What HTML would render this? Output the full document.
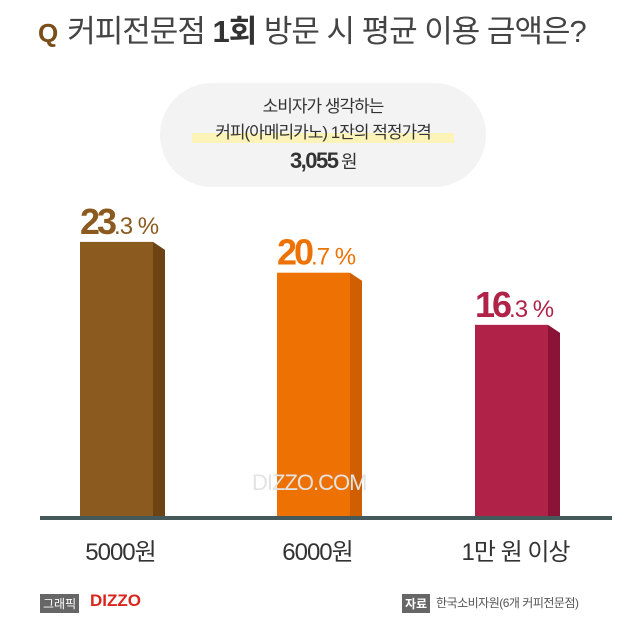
<!DOCTYPE html>
<html><head><meta charset="utf-8"><style>
body{margin:0;width:640px;height:619px;background:#fff;overflow:hidden;font-family:"Liberation Sans","Noto Sans CJK KR",sans-serif;}
.t{position:absolute;white-space:nowrap;}
</style></head><body>
<div style="position:relative;width:640px;height:619px;">
<div class="t" style="left:38px;top:6px;font-size:31px;color:#444;letter-spacing:-1px;"><span style="color:#7a4e1a;font-weight:bold;font-size:26px;margin-right:10px;">Q</span>커피전문점 <b style="color:#333">1회</b> 방문 시 평균 이용 금액은?</div>
<div style="position:absolute;left:160px;top:83px;width:326px;height:104px;border-radius:52px;background:#f3f3f3;"></div>
<div class="t" style="left:160px;width:326px;text-align:center;top:92px;font-size:17px;color:#333;letter-spacing:-1px;">소비자가 생각하는</div>
<div style="position:absolute;left:192px;top:133px;width:262px;height:10px;background:#fbf3b8;"></div>
<div class="t" style="left:160px;width:326px;text-align:center;top:118px;font-size:17px;color:#333;letter-spacing:-1px;">커피(아메리카노) 1잔의 적정가격</div>
<div class="t" style="left:160px;width:326px;text-align:center;top:148px;font-size:22px;color:#333;font-weight:bold;letter-spacing:-1.5px;">3,055<span style="font-weight:normal;font-size:18px;"> 원</span></div>
<svg id="chart" width="640" height="619" style="position:absolute;left:0;top:0;"></svg>
<div class="t" style="left:252px;top:470px;font-size:22px;color:#e3e3e3;letter-spacing:-1px;">DIZZO.COM</div>
<div class="t" style="left:40px;top:594px;font-size:12px;color:#fff;background:#666;padding:1px 3px;">그래픽</div>
<div class="t" style="left:90px;top:591px;font-size:17px;color:#d9261c;font-weight:bold;">DIZZO</div>
<div class="t" style="left:402px;top:594px;font-size:12px;color:#fff;background:#666;padding:1px 3px;font-weight:bold;">자료</div>
<div class="t" style="left:436px;top:594px;font-size:12px;color:#555;letter-spacing:-0.5px;">한국소비자원(6개 커피전문점)</div>
</div>
<script>
const categories=["5000원","6000원","1만 원 이상"];
const values=[23.3,20.7,16.3];
const frontColors=["#8b5a1f","#ee7203","#b02248"];
const sideColors=["#6e4314","#cf5f00","#8c1338"];
const svg=document.getElementById('chart');
const NS="http://www.w3.org/2000/svg";
const base=518, scale=11.85, barW=73, side=12, slant=8;
const xs=[80,277,475];
function y(v){return base-v*scale;}
function mk(t,a){const e=document.createElementNS(NS,t);for(const k in a)e.setAttribute(k,a[k]);svg.appendChild(e);return e;}
values.forEach((v,i)=>{
 const x=xs[i],top=y(v);
 const s=mk('polygon',{points:`${x+barW},${top} ${x+barW+side},${top+slant} ${x+barW+side},${base} ${x+barW},${base}`,fill:sideColors[i]});
 
 
 const r=mk('rect',{x:x,y:top,width:barW,height:base-top,fill:frontColors[i]});
 
 
 const parts=v.toFixed(1).split('.');
 const t=mk('text',{x:x,y:top-8,fill:frontColors[i],'font-size':36,'font-weight':'bold','letter-spacing':-3,'font-family':'Liberation Sans, sans-serif'});
 
 
 t.innerHTML=`${parts[0]}<tspan font-size="24" font-weight="normal" letter-spacing="-1">.${parts[1]} %</tspan>`;
 const c=mk('text',{x:x+barW/2+4,y:560,'text-anchor':'middle',fill:'#333','font-size':24,'letter-spacing':-1,'font-family':'Liberation Sans, Noto Sans CJK KR, sans-serif'});
 
 
 c.textContent=categories[i];
});
const ax=mk('rect',{x:40,y:516,width:572,height:4,fill:'#46595a'});


</script>
</body></html>
